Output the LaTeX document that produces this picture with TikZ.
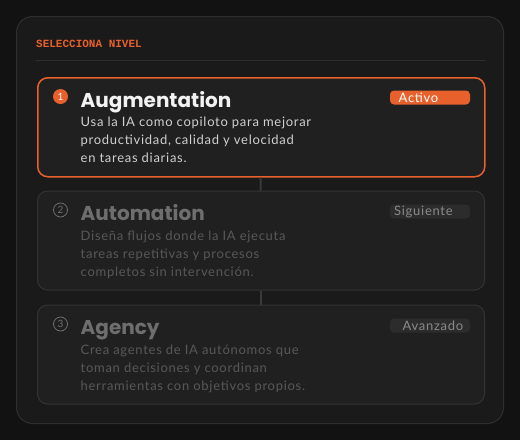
\documentclass[tikz,border=0pt]{standalone}
\usepackage{fontspec}
\setmainfont[LetterSpace=5.5]{Lato}
\newfontfamily\titlefont{Poppins}
\newfontfamily\monofont{Liberation Mono}
\definecolor{bgc}{HTML}{121212}
\definecolor{panelc}{HTML}{1A1A1A}
\definecolor{panelb}{HTML}{2E2E2E}
\definecolor{cardc}{HTML}{202020}
\definecolor{cardb}{HTML}{333333}
\definecolor{orangec}{HTML}{E8612C}
\definecolor{titleon}{HTML}{F2F2F2}
\definecolor{descon}{HTML}{D0D0D0}
\definecolor{titleoff}{HTML}{6E6E6E}
\definecolor{descoff}{HTML}{585858}
\definecolor{badgeoff}{HTML}{2C2C2C}
\definecolor{badgetxt}{HTML}{8A8A8A}
\definecolor{linkc}{HTML}{3A3A3A}
\tikzset{
  x=1pt,y=-1pt,
  cardbox/.style={draw=cardb,line width=1pt,fill=cardc,rounded corners=10pt},
  cardon/.style={draw=orangec,line width=1.5pt,fill=cardc,rounded corners=10pt},
  ttl/.style={anchor=base west,inner sep=0pt,font=\titlefont\bfseries\fontsize{20}{24}\selectfont},
  desc/.style={anchor=north west,inner sep=0pt,align=left,font=\fontsize{13}{18}\selectfont},
  badge/.style={rounded corners=4pt,minimum width=80pt,minimum height=14pt,inner sep=0pt},
  btxt/.style={anchor=west,inner sep=0pt,font=\fontsize{13}{14}\selectfont},
  numon/.style={circle,fill=orangec,text=white,minimum size=15pt,inner sep=0pt,font=\fontsize{10}{10}\selectfont},
  numoff/.style={circle,draw=titleoff,line width=0.8pt,text=titleoff,minimum size=14pt,inner sep=0pt,font=\fontsize{10}{10}\selectfont},
  link/.style={draw=linkc,line width=2pt}
}
\begin{document}
\begin{tikzpicture}
\useasboundingbox (0,0) rectangle (520,440);
\fill[bgc] (0,0) rectangle (520,440);
\draw[draw=panelb,fill=panelc,line width=1pt,rounded corners=16pt] (16.5,16.5) rectangle (503.5,423.5);
\node[anchor=base west,inner sep=0pt,text=orangec,font=\monofont\bfseries\fontsize{11}{12}\selectfont] (hdr) at (36,47.5) {SELECCIONA NIVEL};
\draw[panelb,line width=1pt] (36,60.5) -- (485,60.5);

% cards
\node[cardon,minimum width=447pt,minimum height=99pt,anchor=north west] (c1) at (37,77) {};
\node[cardbox,minimum width=447pt,minimum height=99pt,anchor=north west] (c2) at (37,190.5) {};
\node[cardbox,minimum width=447pt,minimum height=99pt,anchor=north west] (c3) at (37,304.5) {};
\draw[link] ([xshift=-0.5pt]c1.south) -- ([xshift=-0.5pt]c2.north);
\draw[link] ([xshift=-0.5pt]c2.south) -- ([xshift=-0.5pt]c3.north);

% card 1
\node[numon] (n1) at (60.5,96.5) {1};
\node[ttl,text=titleon] (t1) at (80.5,107) {Augmentation};
\node[desc,text=descon] (d1) at (80.5,117) {Usa la IA como copiloto para mejorar\\productividad, calidad y velocidad\\en tareas diarias.};
\node[badge,fill=orangec] (b1) at (430,97.5) {};
\node[btxt,text=white] (bt1) at (398.5,98) {Activo};

% card 2
\node[numoff] (n2) at (60.5,210) {2};
\node[ttl,text=titleoff] (t2) at (80.5,220.5) {Automation};
\node[desc,text=descoff] (d2) at (80.5,230.5) {Diseña flujos donde la IA ejecuta\\tareas repetitivas y procesos\\completos sin intervención.};
\node[badge,fill=badgeoff] (b2) at (430,211.5) {};
\node[btxt,text=badgetxt] (bt2) at (394,212) {Siguiente};

% card 3
\node[numoff] (n3) at (60.5,324) {3};
\node[ttl,text=titleoff] (t3) at (80.5,334.5) {Agency};
\node[desc,text=descoff] (d3) at (80.5,344.5) {Crea agentes de IA autónomos que\\toman decisiones y coordinan\\herramientas con objetivos propios.};
\node[badge,fill=badgeoff] (b3) at (430,325.5) {};
\node[btxt,text=badgetxt] (bt3) at (402.5,326) {Avanzado};
\end{tikzpicture}
\end{document}
